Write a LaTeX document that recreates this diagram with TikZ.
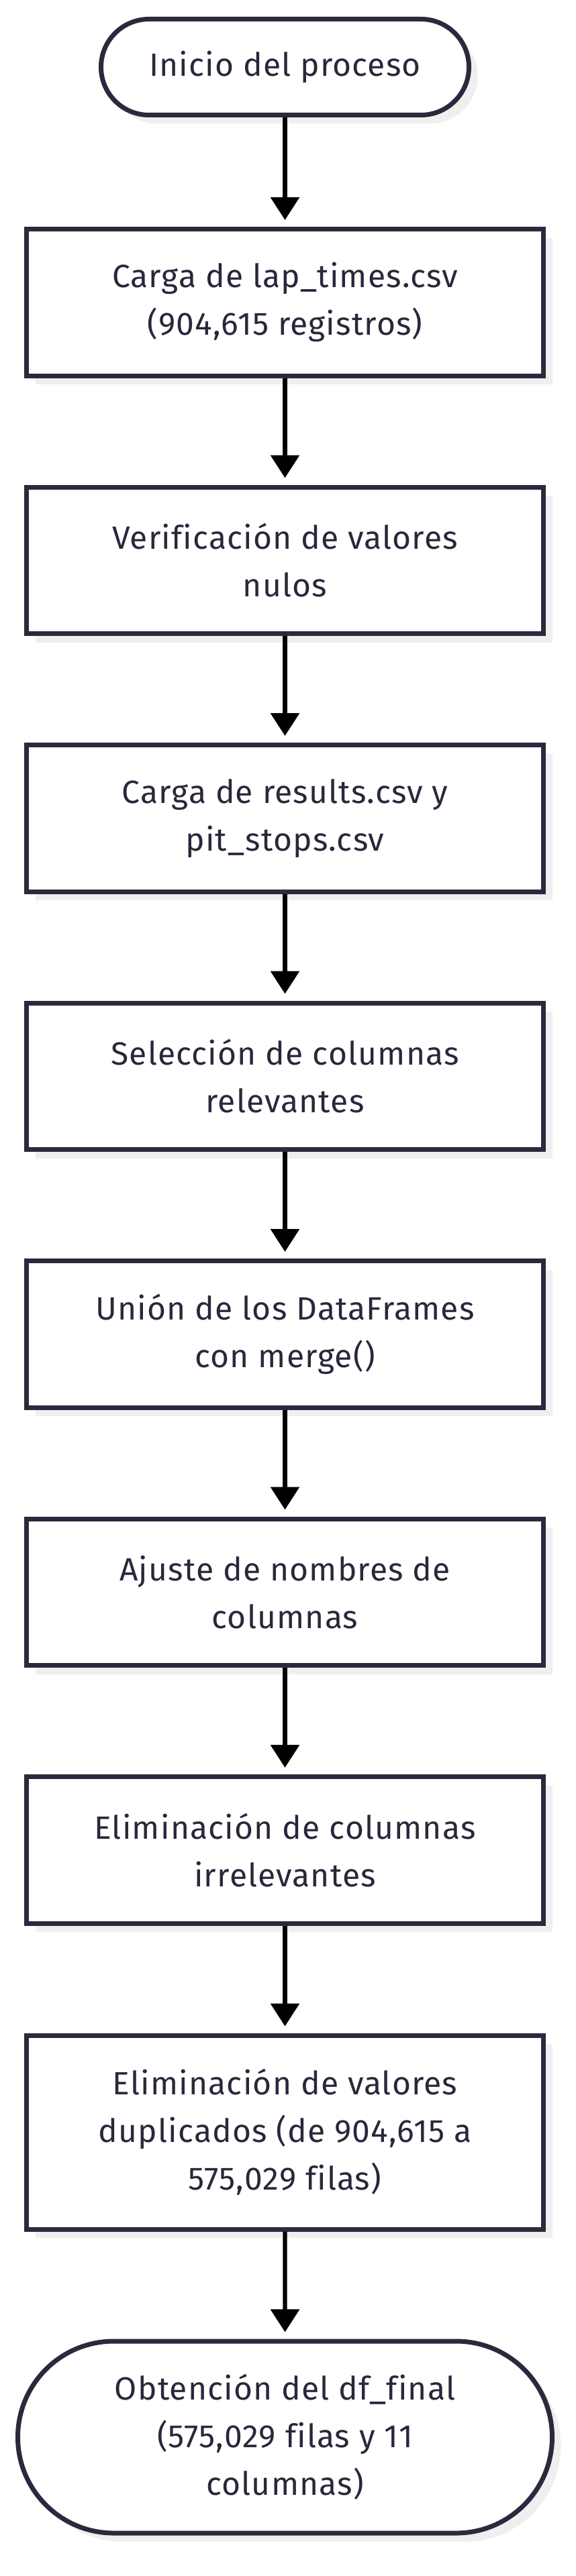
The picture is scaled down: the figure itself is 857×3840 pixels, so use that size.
\documentclass[tikz,border=0pt]{standalone}
\usepackage{fontspec}
\setmainfont{Fira Sans}[LetterSpace=2.5,Ligatures=CommonOff]
\usetikzlibrary{arrows.meta,shapes.misc,shadows}
\definecolor{bordc}{RGB}{42,42,62}
\definecolor{txtc}{RGB}{40,40,60}
\definecolor{shadc}{RGB}{239,239,239}
\begin{document}
\begin{tikzpicture}[x=1pt,y=-1pt,
  base/.style={draw=bordc, line width=7pt, fill=white, text=txtc, align=center,
    inner sep=0pt, font=\fontsize{48}{71}\selectfont,
    drop shadow={shadow xshift=13pt, shadow yshift=-13pt, fill=shadc, opacity=1}},
  proc/.style={base, rectangle, minimum width=770pt, minimum height=218.5pt},
  proc3/.style={base, rectangle, minimum width=770pt, minimum height=289pt},
  term/.style={base, rounded rectangle},
  flow/.style={-{Triangle[length=34pt,width=42pt]}, line width=6.3pt, black, shorten >=10pt}]
\useasboundingbox (0,0) rectangle (857,3840);
\node[term, minimum width=548pt, minimum height=143pt] (s) at (424.5,100) {Inicio del proceso};
\node[proc] (b1) at (424.5,450.75) {Carga de lap\_times.csv\\(904,615 registros)};
\node[proc] (b2) at (424.5,835.25) {Verificación de valores\\nulos};
\node[proc] (b3) at (424.5,1219.75) {Carga de results.csv y\\pit\_stops.csv};
\node[proc] (b4) at (424.5,1604.25) {Selección de columnas\\relevantes};
\node[proc] (b5) at (424.5,1988.75) {Unión de los DataFrames\\con merge()};
\node[proc] (b6) at (424.5,2373.25) {Ajuste de nombres de\\columnas};
\node[proc] (b7) at (424.5,2757.75) {Eliminación de columnas\\irrelevantes};
\node[proc3] (b8) at (424.5,3178.5) {Eliminación de valores\\duplicados (de 904,615 a\\575,029 filas)};
\node[term, minimum width=796pt, minimum height=286pt] (t) at (424.5,3633) {Obtención del df\_final\\(575,029 filas y 11\\columnas)};
\draw[flow] (s) -- (b1);
\draw[flow] (b1) -- (b2);
\draw[flow] (b2) -- (b3);
\draw[flow] (b3) -- (b4);
\draw[flow] (b4) -- (b5);
\draw[flow] (b5) -- (b6);
\draw[flow] (b6) -- (b7);
\draw[flow] (b7) -- (b8);
\draw[flow] (b8) -- (t);
\end{tikzpicture}
\end{document}
